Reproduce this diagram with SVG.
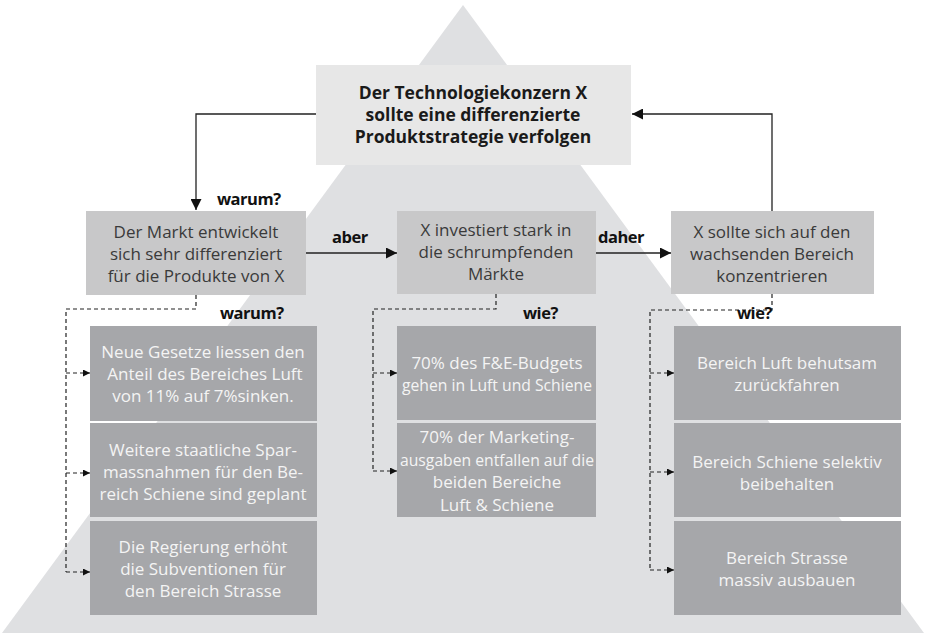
<svg xmlns="http://www.w3.org/2000/svg" width="926" height="633" viewBox="0 0 926 633">
<defs>
<style>
.bg{fill:#ffffff}
.pyr{fill:#dfe0e2}
.top{fill:#e7e7e7}
.mid{fill:#c8c8c9}
.low{fill:#a6a7aa}
.tb{font-family:"Open Sans","DejaVu Sans",sans-serif;font-weight:bold;font-size:17.5px;fill:#1a1a1a;text-anchor:middle}
.tm{font-family:"Open Sans","DejaVu Sans",sans-serif;font-size:17px;fill:#3a3a3a;text-anchor:middle}
.tl{font-family:"Open Sans","DejaVu Sans",sans-serif;font-size:17px;fill:#f4f4f4;text-anchor:middle}
.lab{font-family:"Open Sans","DejaVu Sans",sans-serif;font-weight:bold;font-size:16.5px;fill:#111;letter-spacing:-0.5px}
.solid{fill:none;stroke:#222;stroke-width:1.3}
.dash{fill:none;stroke:#222;stroke-width:1.2;stroke-dasharray:4 3}
</style>
<marker id="ah" viewBox="0 0 10 10" refX="10" refY="5" markerWidth="11" markerHeight="11" markerUnits="userSpaceOnUse" orient="auto">
<path d="M0,0 L10,5 L0,10 Z" fill="#111"/>
</marker>
<marker id="ahs" viewBox="0 0 10 10" refX="10" refY="5" markerWidth="8" markerHeight="7" markerUnits="userSpaceOnUse" orient="auto">
<path d="M0,0 L10,5 L0,10 Z" fill="#111"/>
</marker>
</defs>
<rect class="bg" x="0" y="0" width="926" height="633"/>
<polygon class="pyr" points="463,5 924,633 2,633"/>

<g id="connectors">
<polyline class="solid" points="316,114 196,114 196,210" marker-end="url(#ah)"/>
<polyline class="solid" points="772,211 772,114 632,114" marker-end="url(#ah)"/>
<line class="solid" x1="306" y1="253" x2="397" y2="253" marker-end="url(#ah)"/>
<line class="solid" x1="596" y1="253" x2="671" y2="253" marker-end="url(#ah)"/>
<polyline class="dash" points="196,295 196,309 66,309 66,572"/>
<line class="dash" x1="66" y1="373" x2="90" y2="373" marker-end="url(#ahs)"/>
<line class="dash" x1="66" y1="473" x2="90" y2="473" marker-end="url(#ahs)"/>
<line class="dash" x1="66" y1="572" x2="90" y2="572" marker-end="url(#ahs)"/>
<polyline class="dash" points="496,294 496,309 373,309 373,471"/>
<line class="dash" x1="373" y1="373" x2="397" y2="373" marker-end="url(#ahs)"/>
<line class="dash" x1="373" y1="471" x2="397" y2="471" marker-end="url(#ahs)"/>
<polyline class="dash" points="772,294 772,310 650,310 650,570"/>
<line class="dash" x1="650" y1="373" x2="674" y2="373" marker-end="url(#ahs)"/>
<line class="dash" x1="650" y1="472" x2="674" y2="472" marker-end="url(#ahs)"/>
<line class="dash" x1="650" y1="570" x2="674" y2="570" marker-end="url(#ahs)"/>
<text class="lab" x="217" y="205">warum?</text>
<text class="lab" x="332" y="243">aber</text>
<text class="lab" x="598" y="243">daher</text>
<text class="lab" x="220" y="319">warum?</text>
<text class="lab" x="523" y="319">wie?</text>
<text class="lab" x="737" y="319">wie?</text>
</g>

<g id="n-top">
<rect class="top" x="316" y="65" width="315" height="100"/>
<text class="tb" x="473" y="99">Der Technologiekonzern X</text>
<text class="tb" x="473" y="121">sollte eine differenzierte</text>
<text class="tb" x="473" y="143">Produktstrategie verfolgen</text>
</g>

<g id="n-markt">
<rect class="mid" x="86" y="211" width="220" height="84"/>
<text class="tm" x="196" y="238">Der Markt entwickelt</text>
<text class="tm" x="196" y="260">sich sehr differenziert</text>
<text class="tm" x="196" y="282">für die Produkte von X</text>
</g>

<g id="n-invest">
<rect class="mid" x="397" y="211" width="199" height="83"/>
<text class="tm" x="496" y="236">X investiert stark in</text>
<text class="tm" x="496" y="258">die schrumpfenden</text>
<text class="tm" x="496" y="280">Märkte</text>
</g>

<g id="n-fokus">
<rect class="mid" x="671" y="211" width="203" height="83"/>
<text class="tm" x="772" y="238">X sollte sich auf den</text>
<text class="tm" x="772" y="260">wachsenden Bereich</text>
<text class="tm" x="772" y="282">konzentrieren</text>
</g>

<g id="n-l1">
<rect class="low" x="90" y="326" width="227" height="95"/>
<text class="tl" x="203" y="358">Neue Gesetze liessen den</text>
<text class="tl" x="205" y="380">Anteil des Bereiches Luft</text>
<text class="tl" x="203" y="402">von 11% auf 7%sinken.</text>
</g>
<g id="n-l2">
<rect class="low" x="90" y="423" width="227" height="94"/>
<text class="tl" x="203" y="456">Weitere staatliche Spar-</text>
<text class="tl" x="203" y="478">massnahmen für den Be-</text>
<text class="tl" x="203" y="500">reich Schiene sind geplant</text>
</g>
<g id="n-l3">
<rect class="low" x="90" y="521" width="227" height="94"/>
<text class="tl" x="203" y="553">Die Regierung erhöht</text>
<text class="tl" x="203" y="575">die Subventionen für</text>
<text class="tl" x="203" y="597">den Bereich Strasse</text>
</g>

<g id="n-m1">
<rect class="low" x="397" y="326" width="199" height="94"/>
<text class="tl" x="497" y="369">70% des F&amp;E-Budgets</text>
<text class="tl" x="497" y="391" textLength="190" lengthAdjust="spacingAndGlyphs">gehen in Luft und Schiene</text>
</g>
<g id="n-m2">
<rect class="low" x="397" y="423" width="199" height="94"/>
<text class="tl" x="497" y="443">70% der Marketing-</text>
<text class="tl" x="497" y="466" textLength="194" lengthAdjust="spacingAndGlyphs">ausgaben entfallen auf die</text>
<text class="tl" x="497" y="488">beiden Bereiche</text>
<text class="tl" x="497" y="511">Luft &amp; Schiene</text>
</g>

<g id="n-r1">
<rect class="low" x="674" y="326" width="227" height="94"/>
<text class="tl" x="787" y="369">Bereich Luft behutsam</text>
<text class="tl" x="787" y="391">zurückfahren</text>
</g>
<g id="n-r2">
<rect class="low" x="674" y="423" width="227" height="94"/>
<text class="tl" x="787" y="468">Bereich Schiene selektiv</text>
<text class="tl" x="787" y="490">beibehalten</text>
</g>
<g id="n-r3">
<rect class="low" x="674" y="521" width="227" height="94"/>
<text class="tl" x="787" y="564">Bereich Strasse</text>
<text class="tl" x="787" y="586">massiv ausbauen</text>
</g>
</svg>
